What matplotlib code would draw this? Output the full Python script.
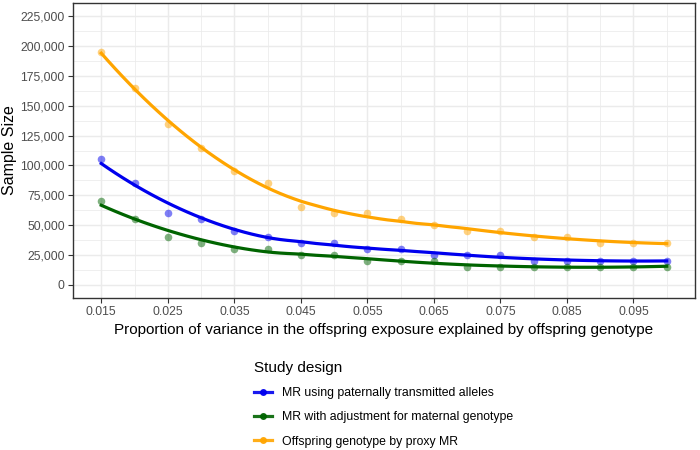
import numpy as np
import matplotlib
matplotlib.use("Agg")
import matplotlib.pyplot as plt
from matplotlib.lines import Line2D
from matplotlib.ticker import FuncFormatter, MultipleLocator

plt.rcParams['font.family'] = ['Liberation Sans', 'DejaVu Sans']

# proportion of variance explained (x)
r2 = [0.015, 0.02, 0.025, 0.03, 0.035, 0.04, 0.045, 0.05, 0.055,
      0.06, 0.065, 0.07, 0.075, 0.08, 0.085, 0.09, 0.095, 0.1]

n_paternal = [105000, 85000, 60000, 55000, 45000, 40000, 35000, 35000, 30000,
              30000, 25000, 25000, 25000, 20000, 20000, 20000, 20000, 20000]
n_maternal = [70000, 55000, 40000, 35000, 30000, 30000, 25000, 25000, 20000,
              20000, 20000, 15000, 15000, 15000, 15000, 15000, 15000, 15000]
n_proxy = [195000, 165000, 135000, 115000, 95000, 85000, 65000, 60000, 60000,
           55000, 50000, 45000, 45000, 40000, 40000, 35000, 35000, 35000]

labels = ["MR using paternally transmitted alleles",
          "MR with adjustment for maternal genotype",
          "Offspring genotype by proxy MR"]
colors = ["#0000EE", "#006400", "#FFA500"]
x_ticks = [0.015, 0.025, 0.035, 0.045, 0.055, 0.065, 0.075, 0.085, 0.095]


def loess(x, y, xs, span=0.75):
    # local quadratic fit with tricube weights (like geom_smooth default)
    x = np.asarray(x, float)
    y = np.asarray(y, float)
    q = int(np.floor(span * len(x)))
    out = []
    for x0 in xs:
        d = np.abs(x - x0)
        h = np.sort(d)[q - 1]
        w = np.clip(1 - (d / h) ** 3, 0, None) ** 3
        A = np.vstack([np.ones_like(x), x - x0, (x - x0) ** 2]).T
        W = np.sqrt(w)
        coef = np.linalg.lstsq(A * W[:, None], y * W, rcond=None)[0]
        out.append(coef[0])
    return np.array(out)


fig = plt.figure(figsize=(7, 4.5), dpi=100)
ax = fig.add_axes([73 / 700, 1 - 298 / 450, 622 / 700, 295 / 450])

xs = np.linspace(min(r2), max(r2), 80)
for ys, c in zip([n_paternal, n_maternal, n_proxy], colors):
    ax.scatter(r2, ys, s=30, color=c, alpha=0.5, linewidths=0, zorder=3)
    ax.plot(xs, loess(r2, ys, xs), color=c, lw=2.3, zorder=4)

ax.set_xlim(0.015 - 0.00425, 0.1 + 0.00425)
ax.set_ylim(-11250, 236250)
ax.set_xticks(x_ticks)
ax.set_xticklabels(["%.3f" % v for v in x_ticks])
ax.xaxis.set_minor_locator(MultipleLocator(0.005))
ax.set_yticks(np.arange(0, 225001, 25000))
ax.yaxis.set_minor_locator(MultipleLocator(12500))
ax.yaxis.set_major_formatter(FuncFormatter(lambda v, p: "{:,.0f}".format(v)))

ax.grid(True, which='major', color='#EBEBEB', lw=1.07)
ax.grid(True, which='minor', color='#EBEBEB', lw=0.55)
ax.set_axisbelow(True)
for s in ax.spines.values():
    s.set_color('#333333')
    s.set_linewidth(1.0)
ax.tick_params(which='major', length=3.5, width=0.8, color='#333333',
               labelsize=8.8, labelcolor='#4D4D4D', pad=2.5)
ax.tick_params(which='minor', length=0)

ax.set_xlabel("Proportion of variance in the offspring exposure explained by offspring genotype",
              fontsize=11, labelpad=3)
ax.set_ylabel("Sample Size", fontsize=11.5, labelpad=2)

handles = [Line2D([], [], color=c, lw=2.3, marker='o', ms=4, alpha=0.9)
           for c in colors]
leg = fig.legend(handles, labels, title="Study design", loc='upper left',
                 bbox_to_anchor=(243 / 700, 1 - 350 / 450), frameon=False,
                 fontsize=8.8, title_fontsize=11, alignment='left',
                 handlelength=1.5, handletextpad=0.8, labelspacing=1.0)

fig.savefig("out.png", dpi=100)
